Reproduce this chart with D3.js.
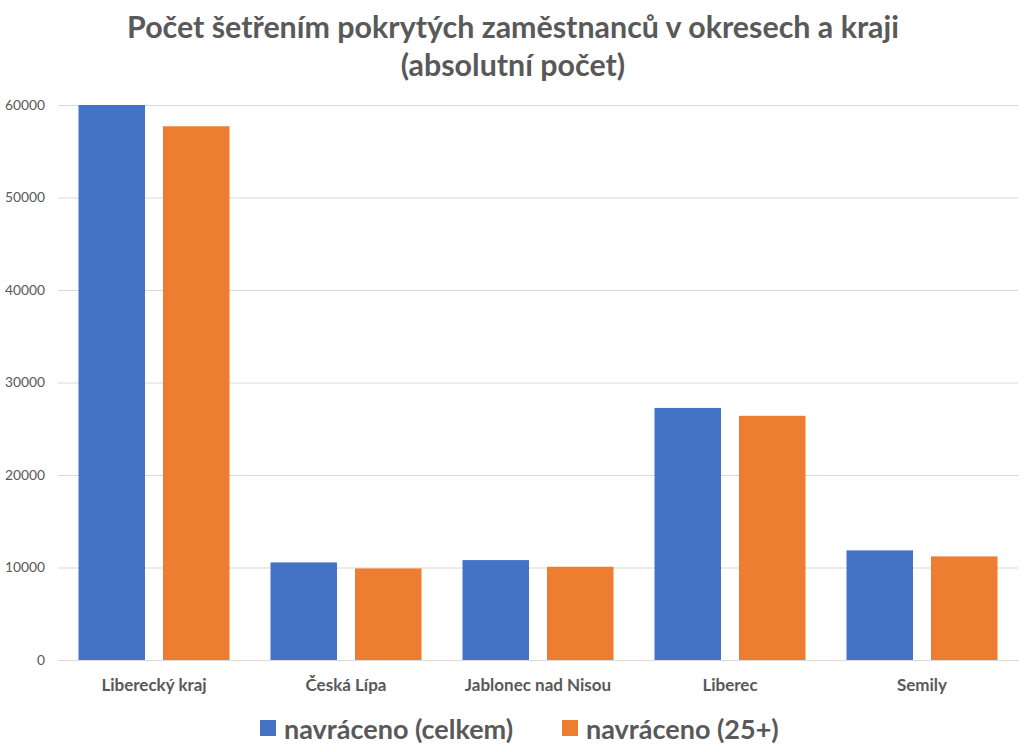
<!DOCTYPE html>
<html><head><meta charset="utf-8">
<script src="https://cdn.jsdelivr.net/npm/d3@7"></script>
<style>body{margin:0;background:#fff}svg{display:block;font-family:Lato,"Open Sans",sans-serif}</style>
</head><body><svg id="c" width="1024" height="752"></svg>
<script>
const categories = ["Liberecký kraj","Česká Lípa","Jablonec nad Nisou","Liberec","Semily"];
const seriesNames = ["navráceno (celkem)","navráceno (25+)"];
const celkem = [60000,10550,10800,27250,11850];
const plus25 = [57700,9900,10080,26400,11200];
const yTicks = [0,10000,20000,30000,40000,50000,60000];
const colors = ["#4472C4","#ED7D31"];

const svg = d3.select("#c");
const L=58,R=1018,T=105,B=660;
const y = d3.scaleLinear().domain([0,60000]).range([B,T]);
const x0 = d3.scaleBand().domain(categories).range([L,R]).padding(0);
const x1 = d3.scaleBand().domain([0,1]).range([20.5,x0.bandwidth()-20.5]).paddingInner(0.213);

const yAxis = svg.append("g").attr("transform",`translate(${L},0)`)
  .call(d3.axisLeft(y).tickValues(yTicks).tickSize(-(R-L)).tickFormat(d3.format("d")));
yAxis.select(".domain").remove();
yAxis.selectAll(".tick line").attr("stroke","#D9D9D9").attr("stroke-width",1);
yAxis.selectAll(".tick text").attr("x",-13).attr("fill","#595959").style("font-size","13.8px").style("font-family","Lato,sans-serif");

const g = svg.append("g");
categories.forEach((c,i)=>{
  [celkem[i],plus25[i]].forEach((v,j)=>{
    g.append("rect").attr("x",x0(c)+x1(j)).attr("width",x1.bandwidth())
      .attr("y",y(v)).attr("height",B-y(v)).attr("fill",colors[j]);
  });
});

const xAxis = svg.append("g").attr("transform",`translate(0,${B})`)
  .call(d3.axisBottom(x0).tickSize(0));
xAxis.select(".domain").attr("stroke","#D9D9D9");
xAxis.selectAll(".tick text").attr("y",19).attr("fill","#595959")
  .style("font-size","17px").style("font-weight","bold").style("font-family","Lato,sans-serif");

const title = svg.append("text").attr("text-anchor","middle").attr("fill","#595959")
  .style("font-size","30.4px").style("font-weight","bold");
title.append("tspan").attr("x",513).attr("y",38).text("Počet šetřením pokrytých zaměstnanců v okresech a kraji");
title.append("tspan").attr("x",513).attr("y",76).text("(absolutní počet)");

const legX=[260,562];
seriesNames.forEach((n,j)=>{
  svg.append("rect").attr("x",legX[j]).attr("y",720).attr("width",16).attr("height",16).attr("fill",colors[j]);
  svg.append("text").attr("x",legX[j]+24).attr("y",739).attr("fill","#595959")
    .style("font-size","27px").style("font-weight","bold").text(n);
});
</script></body></html>
